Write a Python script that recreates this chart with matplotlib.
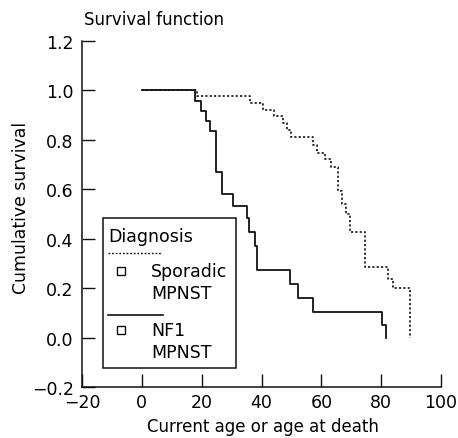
import matplotlib
matplotlib.use("Agg")
import matplotlib.pyplot as plt
from matplotlib.patches import Rectangle
from matplotlib.lines import Line2D

# ---- data ----
nf1_age = [0, 17.7, 19.7, 21.6, 22.7, 24.8, 26.9, 30.5, 35.0, 35.8, 37.7, 38.5,
           49.6, 52.3, 57.3, 80.2, 81.6]
nf1_surv = [1.0, 0.957, 0.917, 0.876, 0.836, 0.668, 0.581, 0.531, 0.483, 0.429,
            0.372, 0.274, 0.218, 0.161, 0.104, 0.052, 0.0]

spor_age = [0, 18.5, 36.1, 40.6, 44.2, 47.3, 48.5, 49.8, 57.3, 58.7, 61.2, 63.3,
            65.7, 66.9, 68.1, 69.7, 74.6, 82.4, 83.8, 89.6]
spor_surv = [1.0, 0.976, 0.949, 0.922, 0.895, 0.868, 0.841, 0.812, 0.778, 0.748,
             0.722, 0.69, 0.595, 0.54, 0.498, 0.429, 0.284, 0.238, 0.202, 0.0]

x_ticks = [-20, 0, 20, 40, 60, 80, 100]
y_ticks = [-0.2, 0.0, 0.2, 0.4, 0.6, 0.8, 1.0, 1.2]
y_tick_labels = ["\u22120.2", "0.0", "0.2", "0.4", "0.6", "0.8", "1.0", "1.2"]
x_tick_labels = ["\u221220", "0", "20", "40", "60", "80", "100"]
legend_title = "Diagnosis"
series_names = ["Sporadic\nMPNST", "NF1\nMPNST"]

W, H = 458, 439
plt.rcParams['font.family'] = ['DejaVu Sans']
fig = plt.figure(figsize=(W / 100, H / 100), dpi=100)

def fx(px):
    return px / W

def fy(py):
    return 1 - py / H

ax = fig.add_axes([fx(82), fy(388), fx(441) - fx(82), fy(42) - fy(388)])
ax.set_xlim(-20, 100)
ax.set_ylim(-0.2, 1.2)

col = "#111111"
ax.step(spor_age, spor_surv, where="post", color=col, lw=1.2, linestyle=(0, (1.3, 1.3)))
ax.step(nf1_age, nf1_surv, where="post", color=col, lw=1.3)

for s in ["top", "right"]:
    ax.spines[s].set_visible(False)
for s in ["left", "bottom"]:
    ax.spines[s].set_linewidth(1.1)
    ax.spines[s].set_color(col)

ax.set_xticks(x_ticks)
ax.set_xticklabels(x_tick_labels)
ax.set_yticks(y_ticks)
ax.set_yticklabels(y_tick_labels)
ax.tick_params(direction="in", length=9.5, width=1.0, labelsize=12.5, color=col)
ax.tick_params(axis="x", pad=4)
ax.tick_params(axis="y", pad=6)

fig.text(fx(84), fy(20), "Survival function", fontsize=12, ha="left", va="center")
fig.text(fx(21), fy(208), "Cumulative survival", fontsize=12.4, rotation=90,
         ha="center", va="center")
fig.text(fx(263), fy(427), "Current age or age at death", fontsize=12,
         ha="center", va="center")

# ---- legend box ----
fig.add_artist(Rectangle((fx(103), fy(369)), fx(236) - fx(103), fy(219) - fy(369),
                         transform=fig.transFigure, fill=False, lw=1.1, edgecolor=col))
fig.text(fx(108), fy(237), legend_title, fontsize=12.5, ha="left", va="center")
fig.add_artist(Line2D([fx(108), fx(161)], [fy(254), fy(254)], transform=fig.transFigure,
                      color=col, lw=1.0, linestyle=(0, (1.3, 1.3))))
fig.add_artist(Line2D([fx(108), fx(163)], [fy(315.5), fy(315.5)], transform=fig.transFigure,
                      color=col, lw=1.2))
for yc, name in zip([272, 331], series_names):
    fig.add_artist(Line2D([fx(121)], [fy(yc)], transform=fig.transFigure, marker="s",
                          markersize=5.5, mfc="white", mec=col, mew=1.0, linestyle="none"))
    fig.text(fx(151), fy(yc - 9), name, fontsize=12.5, ha="left", va="top",
             linespacing=1.3)

fig.savefig("out.png", dpi=100)
